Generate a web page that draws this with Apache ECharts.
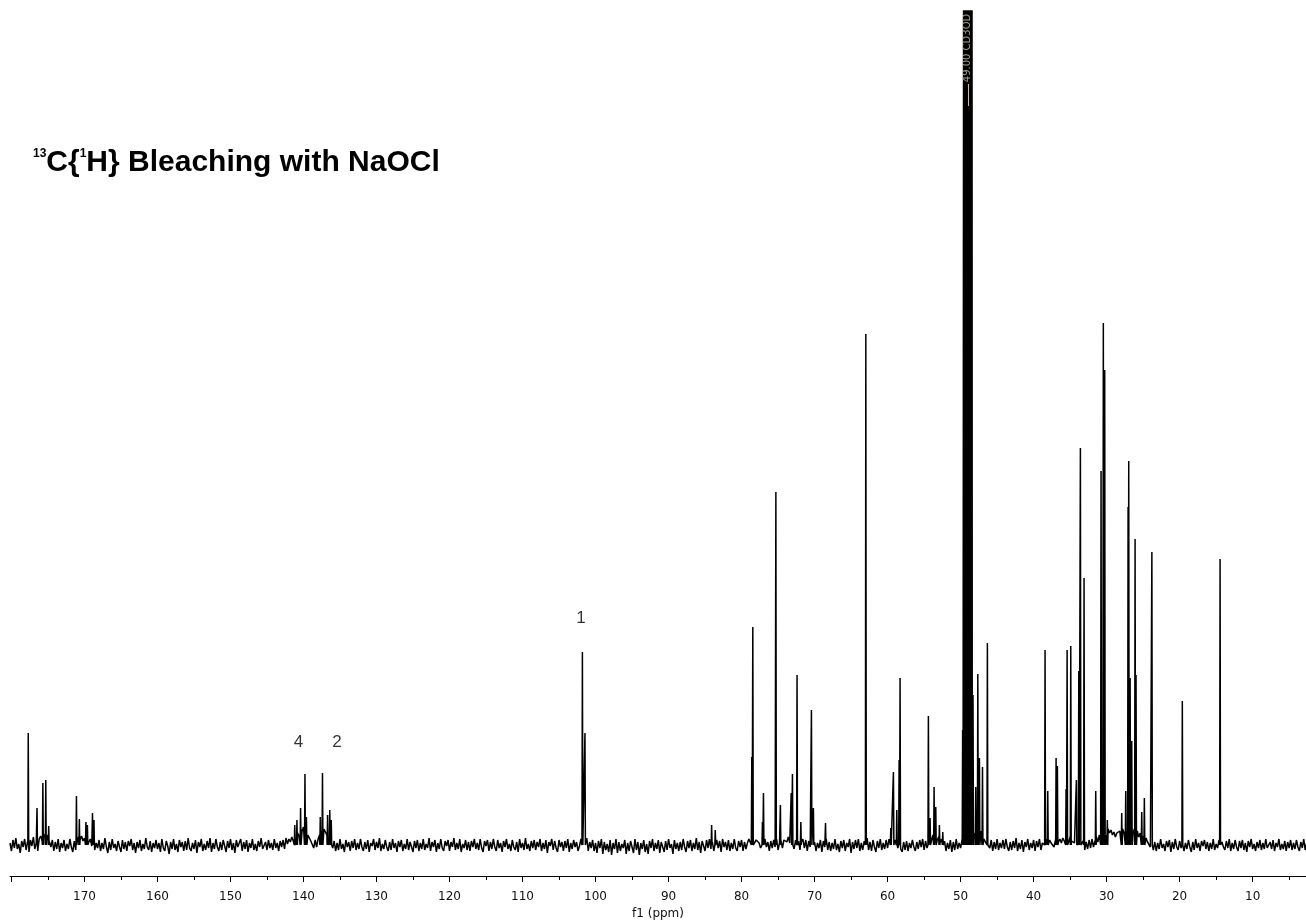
<!DOCTYPE html>
<html>
<head>
<meta charset="utf-8">
<title>13C{1H} Bleaching with NaOCl</title>
<script src="https://cdn.jsdelivr.net/npm/echarts@6/dist/echarts.min.js"></script>
<style>
  html, body { margin: 0; padding: 0; background: #ffffff; }
  #chart { width: 1306px; height: 922px; }
</style>
</head>
<body>
<div id="chart"></div>
<script>
// ---- Spectrum data (13C{1H}, CD3OD) ----
// Chemical-shift window of the plot, ppm (axis runs high -> low).
const PPM_HIGH = 180.2;
const PPM_LOW = 2.69;

// Baseline noise, sampled every 0.2 ppm starting at 180.2 ppm (intensity, a.u.).
// One row = 4 ppm.
const NOISE_START = 180.2;
const NOISE_STEP = 0.2;
const baselineNoise = [
  2,-6,5,-3,7,-4,1,-8,4,-2,6,-5,3,-7,5,-1,8,-4,2,-6,
  6,9,4,11,8,5,10,3,-2,5,-6,3,-4,6,-7,2,-3,5,-6,1,
  -4,6,-2,-7,4,-5,3,8,5,9,4,7,2,8,3,6,-1,4,-5,2,
  -3,5,-6,2,-4,7,-2,-8,3,-5,6,-3,1,-6,4,-2,-7,5,-4,3,
  -6,4,-1,6,-5,2,-8,3,-3,5,-6,1,-4,7,-2,-5,4,-7,2,-3,
  5,-4,2,-7,6,-3,-6,4,-1,-9,3,-4,6,-5,1,-7,5,-2,3,-6,
  4,-5,7,-3,-6,2,-4,5,-8,3,-2,6,-6,1,-5,4,-3,7,-7,2,
  -4,6,-2,-6,3,-5,5,-1,-7,4,-3,6,-5,2,-8,5,-2,-4,6,-6,
  3,-4,5,-7,2,-3,6,-5,1,-6,4,-2,7,-4,-6,3,-5,5,-3,2,
  -5,6,-3,2,-6,4,-2,5,-4,7,1,6,3,8,4,10,6,12,9,15,
  14,18,12,16,10,8,4,2,-3,5,-2,6,10,14,12,16,13,10,6,3,
  5,-3,4,-6,2,-5,6,-4,1,-7,5,-2,3,-6,4,-3,6,-5,2,-4,
  6,-2,-6,3,-4,5,-7,2,-1,6,-5,3,-3,7,-6,1,-4,5,-2,-6,
  3,-5,6,-3,2,-7,4,-2,5,-6,1,-4,6,-5,3,-2,-7,4,-3,5,
  -6,2,-4,6,-5,1,-3,7,-6,3,-2,5,-7,2,-4,6,-3,-6,4,-1,
  5,-6,3,-2,7,-5,2,-4,6,-7,1,-3,5,-5,3,-6,4,-2,6,-4,
  2,-5,6,-3,-7,4,-1,5,-6,3,-4,6,-2,-6,5,-3,2,-7,4,-2,
  6,-4,1,-6,5,-2,-5,3,-7,6,-3,2,-5,7,-4,1,-6,4,-3,5,
  -5,3,-2,6,-6,2,-4,5,-8,3,-1,6,-5,4,-3,-7,5,-2,3,-6,
  4,-3,6,-7,2,-4,5,-2,3,-6,-1,6,-5,2,-4,7,-6,3,-3,5,
  -6,2,-8,4,-3,6,-9,3,-5,1,-7,5,-10,2,-4,6,-8,3,-6,1,
  -3,5,-9,2,-6,4,-2,-8,6,-5,3,-10,2,-4,5,-7,1,-9,4,-3,
  6,-6,2,-4,5,-8,3,-2,-7,4,-5,6,-3,1,-9,5,-4,2,-6,3,
  -5,6,-2,-7,4,-3,5,-6,2,-4,7,-5,3,-8,4,-1,-6,5,-3,6,
  -4,3,-6,2,5,-3,4,-7,6,-2,3,-5,5,-6,2,-4,6,-3,-6,4,
  -2,5,-6,3,-4,2,6,4,9,3,-2,5,7,2,-3,4,-5,6,-2,3,
  -6,4,-3,5,-2,6,-5,2,4,-3,5,7,3,8,2,-3,6,-4,5,-2,
  4,-5,3,6,-3,5,-6,4,-2,6,-4,3,-6,2,-3,5,-7,4,-2,6,
  -5,3,-6,2,-4,6,-5,1,-7,4,-3,5,-6,2,-2,6,-8,3,-4,5,
  -3,6,-6,2,-5,4,-2,7,-5,3,-6,5,-2,-7,4,-3,6,-5,2,-4,
  5,-3,6,3,-2,8,5,2,-3,6,-4,-7,3,-5,4,-6,2,-3,5,-2,
  -6,3,-4,5,-2,6,-5,4,-3,6,8,4,10,7,12,5,8,3,6,-2,
  4,-6,2,-4,5,-7,3,-5,6,-4,2,-3,5,8,10,12,14,12,10,8,
  12,6,10,5,8,14,9,6,4,8,2,-3,5,-6,3,-4,6,-5,2,-3,
  5,-4,6,-2,-6,3,-5,4,-3,7,-6,2,-4,5,-7,3,-2,6,-5,2,
  -3,5,-6,4,-2,6,-5,2,3,-4,6,-3,5,2,4,-2,5,-3,3,6,
  2,7,4,-2,5,3,8,4,6,2,7,3,9,5,-2,4,-5,3,-4,5,
  -3,6,-2,4,8,3,10,6,12,8,14,10,16,12,15,10,13,8,12,10,
  14,10,16,12,18,14,20,15,18,12,16,10,14,8,12,6,9,4,7,3,
  5,-2,4,-5,3,-6,2,-4,6,-3,1,-6,4,-2,5,-7,3,-4,6,-2,
  -5,4,-3,6,-6,2,-4,5,-2,-7,3,-5,6,-3,2,-6,4,-1,5,-4,
  3,-6,2,-4,6,-5,1,-3,5,-6,3,-2,-5,4,-3,6,-6,2,-4,5,
  -2,-6,4,-3,5,-5,2,-7,4,-2,6,-4,1,-6,3,-3,5,-5,2,-4,
  6,-3,-5,3,-4,5,-6,2,-2,6,-5,1,-4,4,-6,3,-3,5,-5,2,
  -4,5,-2,-6,3,-3,6,-5,2
];

// Resolved lines: chemical shift (ppm) and peak height (a.u.).
const peakPpm = [
  177.7, 176.5, 175.7, 175.3, 174.9, 171.1, 170.7, 169.8, 169.6, 168.9, 168.7,
  141.2, 140.9, 140.4, 139.8, 139.6, 137.7, 137.4, 136.7, 136.4, 136.2,
  101.8, 101.45,
  84.1, 83.6,
  78.6, 78.46, 77.14, 77.0, 75.3, 74.68, 73.2, 73.03, 72.4, 71.88, 70.43, 70.16, 68.5,
  62.98,
  59.56, 59.2, 58.74, 58.42, 58.29, 54.41, 54.18, 53.63, 53.4, 52.9, 52.44,
  47.92, 47.64, 47.42, 47.0, 46.33,
  38.43, 38.06, 36.92, 36.74, 35.55, 35.41, 34.91, 34.14, 33.81, 33.59, 33.09,
  31.49, 30.76, 30.45, 30.26, 29.9,
  27.93, 27.38, 27.06, 26.97, 26.78, 26.56, 26.1, 25.97, 25.19, 24.83, 23.8,
  19.63, 14.46
];
const peakHeight = [
  112, 37, 62, 65, 19, 49, 26, 23, 20, 32, 25,
  20, 25, 37, 71, 28, 28, 72, 30, 35, 25,
  193, 112,
  20, 15,
  88, 218, 23, 52, 353, 40, 52, 71, 170, 23, 135, 37, 22,
  511,
  17, 73, 35, 85, 167, 129, 27, 58, 38, 20, 13,
  58, 171, 87, 78, 202,
  195, 54, 87, 79, 56, 195, 199, 65, 174, 397, 267,
  54, 374, 522, 475, 25,
  32, 54, 338, 384, 167, 104, 306, 170, 33, 47, 293,
  144, 286
];

// CD3OD solvent multiplet (runs off scale).
const solventPpm = [49.72, 49.54, 49.36, 49.18, 49.0, 48.82, 48.64, 48.46, 48.3];
const solventHeight = [115, 1500, 2000, 2200, 2300, 2200, 2000, 1500, 150];
const solventLabel = '49.00 CD3OD';
const solventShift = 49.0;

// Assignment numbers above signals.
const assignText = ['1', '4', '2'];
const assignPpm = [102.0, 140.68, 135.42];
const assignHeight = [227, 103, 103];

// Axis ticks (ppm).
const majorTicks = [10, 20, 30, 40, 50, 60, 70, 80, 90, 100, 110, 120, 130, 140, 150, 160, 170, 180];
const minorTicks = [5, 15, 25, 35, 45, 55, 65, 75, 85, 95, 105, 115, 125, 135, 145, 155, 165, 175];
const tickLabels = [10, 20, 30, 40, 50, 60, 70, 80, 90, 100, 110, 120, 130, 140, 150, 160, 170];

const TITLE = '{sup|13}C{{sup|1}H} Bleaching with NaOCl';

// ---- Build the trace ----
// Each resolved line is a narrow stick: baseline foot, apex, baseline foot.
const HALF_WIDTH = 0.06;
const lines = peakPpm.map((p, i) => [p, peakHeight[i]])
  .concat(solventPpm.map((p, i) => [p, solventHeight[i]]));
const linePts = [];
lines.forEach(([p, h]) => {
  linePts.push([p + HALF_WIDTH, 0], [p, h], [p - HALF_WIDTH, 0]);
});
const noisePts = baselineNoise
  .map((v, i) => [Math.round((NOISE_START - i * NOISE_STEP) * 100) / 100, v])
  .filter(pt => !lines.some(l => Math.abs(l[0] - pt[0]) < 0.075));
const spectrum = noisePts.concat(linePts).sort((a, b) => b[0] - a[0]);

const assignData = assignText.map((t, i) => ({ name: t, value: [assignPpm[i], assignHeight[i]] }));

const chart = echarts.init(document.getElementById('chart'), null, { renderer: 'canvas' });

chart.setOption({
  animation: false,
  backgroundColor: '#ffffff',
  grid: { left: 10, right: 0, top: 11, bottom: 46, containLabel: false, outerBoundsMode: 'none' },
  xAxis: [
    {
      type: 'value',
      min: PPM_LOW,
      max: PPM_HIGH,
      inverse: true,
      position: 'bottom',
      name: 'f1 (ppm)',
      nameLocation: 'middle',
      nameGap: 30,
      nameTextStyle: { color: '#111111', fontFamily: 'DejaVu Sans', fontSize: 12 },
      axisLine: { show: true, onZero: false, lineStyle: { color: '#000000', width: 1 } },
      axisTick: { show: true, inside: false, length: 6, customValues: majorTicks,
                  lineStyle: { color: '#000000', width: 1 } },
      axisLabel: { show: true, customValues: tickLabels, margin: 15,
                   color: '#111111', fontFamily: 'DejaVu Sans', fontSize: 12 },
      splitLine: { show: false }
    },
    {
      type: 'value',
      min: PPM_LOW,
      max: PPM_HIGH,
      inverse: true,
      position: 'bottom',
      axisLine: { show: false, onZero: false },
      axisTick: { show: true, inside: false, length: 4, customValues: minorTicks,
                  lineStyle: { color: '#000000', width: 1 } },
      axisLabel: { show: false },
      splitLine: { show: false }
    }
  ],
  yAxis: { type: 'value', min: -31, max: 834, show: false, splitLine: { show: false } },
  graphic: [
    {
      type: 'text',
      left: 33,
      top: 148,
      style: {
        text: TITLE,
        fill: '#000000',
        fontFamily: '"Liberation Sans", Arial, sans-serif',
        fontWeight: 'bold',
        fontSize: 30,
        rich: {
          sup: { fontSize: 12, fontWeight: 'bold', fontFamily: '"Liberation Sans", Arial, sans-serif',
                 verticalAlign: 'top', lineHeight: 16, fill: '#000000' }
        }
      }
    }
  ],
  series: [
    {
      name: 'spectrum',
      type: 'line',
      xAxisIndex: 0,
      data: spectrum,
      showSymbol: false,
      symbol: 'none',
      clip: true,
      silent: true,
      lineStyle: { color: '#000000', width: 1.5 }
    },
    {
      name: 'assignments',
      type: 'scatter',
      xAxisIndex: 0,
      data: assignData,
      symbolSize: 0,
      silent: true,
      label: { show: true, position: 'inside', formatter: '{b}', color: '#000000',
               fontFamily: '"Liberation Sans", Arial, sans-serif', fontSize: 17 }
    },
    {
      name: 'solvent',
      type: 'scatter',
      xAxisIndex: 0,
      data: [{ name: solventLabel, value: [solventShift, 798] }],
      symbolSize: 0,
      silent: true,
      z: 5,
      label: { show: true, position: 'inside', formatter: '{b}', rotate: 90, offset: [-1, 0],
               color: '#c8c0ae', fontFamily: 'DejaVu Sans', fontSize: 10 },
      markLine: {
        silent: true,
        symbol: 'none',
        label: { show: false },
        lineStyle: { color: '#c8c0ae', width: 1, type: 'solid' },
        data: [[{ coord: [solventShift, 761] }, { coord: [solventShift, 739] }]]
      }
    }
  ]
});
</script>
</body>
</html>
